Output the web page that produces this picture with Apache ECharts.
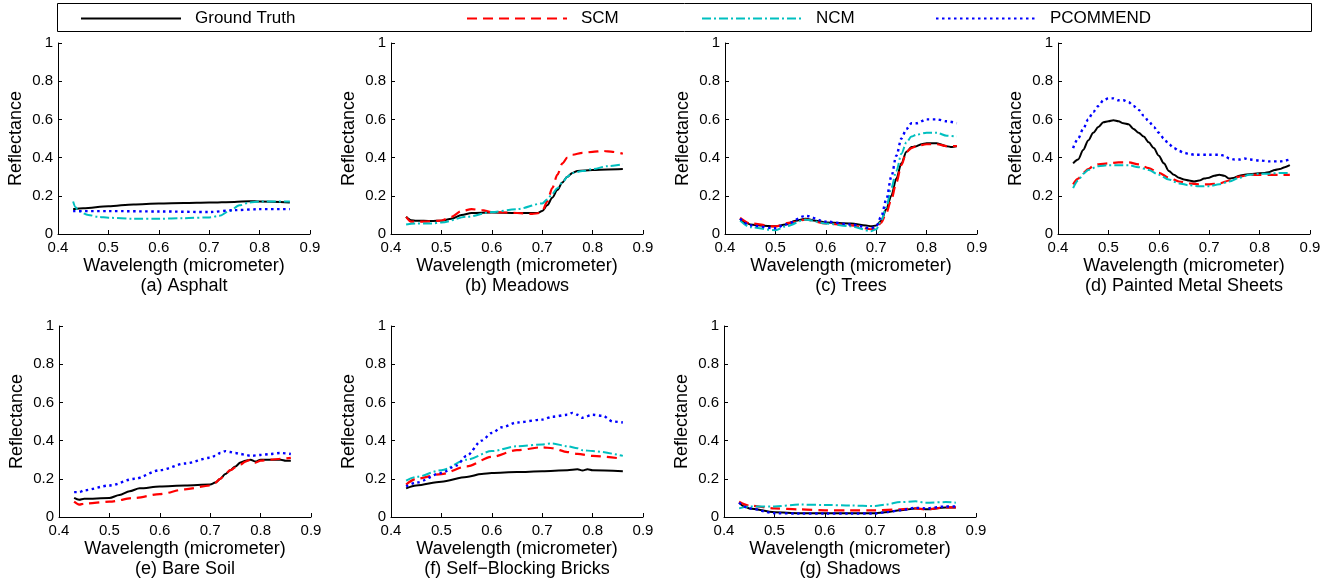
<!DOCTYPE html>
<html>
<head>
<meta charset="utf-8">
<script src="https://cdn.jsdelivr.net/npm/echarts@6/dist/echarts.min.js"></script>
<style>
  html, body { margin: 0; padding: 0; background: #fff; }
  #chart { width: 1335px; height: 585px; }
</style>
</head>
<body>
<div id="chart"></div>
<script>
// reflectance spectra, as [wavelength, reflectance]
const asphaltGT = [[0.43,0.13],[0.45,0.135],[0.5,0.145],[0.55,0.155],[0.6,0.16],[0.65,0.162],[0.7,0.165],[0.75,0.168],[0.78,0.172],[0.8,0.17],[0.86,0.165]];
const asphaltSCM = [];
const asphaltNCM = [[0.43,0.17],[0.435,0.14],[0.44,0.12],[0.46,0.1],[0.48,0.09],[0.5,0.085],[0.55,0.08],[0.6,0.08],[0.65,0.083],[0.7,0.087],[0.72,0.095],[0.74,0.12],[0.76,0.15],[0.78,0.165],[0.8,0.17],[0.86,0.17]];
const asphaltPC = [[0.43,0.12],[0.5,0.12],[0.6,0.118],[0.7,0.115],[0.75,0.125],[0.8,0.13],[0.86,0.13]];

const meadowsGT = [[0.43,0.09],[0.44,0.072],[0.45,0.07],[0.48,0.068],[0.5,0.07],[0.52,0.08],[0.54,0.1],[0.56,0.11],[0.6,0.112],[0.65,0.11],[0.69,0.11],[0.7,0.12],[0.71,0.15],[0.72,0.19],[0.73,0.23],[0.74,0.27],[0.75,0.3],[0.76,0.32],[0.77,0.33],[0.8,0.335],[0.83,0.338],[0.86,0.34]];
const meadowsSCM = [[0.43,0.09],[0.44,0.065],[0.47,0.065],[0.5,0.07],[0.52,0.09],[0.54,0.12],[0.56,0.13],[0.58,0.125],[0.6,0.115],[0.65,0.11],[0.68,0.105],[0.695,0.11],[0.7,0.12],[0.71,0.17],[0.72,0.24],[0.73,0.31],[0.74,0.37],[0.75,0.4],[0.76,0.415],[0.78,0.425],[0.8,0.43],[0.82,0.435],[0.84,0.43],[0.86,0.42]];
const meadowsNCM = [[0.43,0.05],[0.45,0.055],[0.48,0.055],[0.5,0.06],[0.55,0.09],[0.6,0.115],[0.65,0.13],[0.7,0.16],[0.71,0.18],[0.72,0.21],[0.73,0.24],[0.74,0.27],[0.75,0.3],[0.76,0.32],[0.78,0.33],[0.8,0.34],[0.83,0.355],[0.86,0.365]];
const meadowsPC = [];

const treesGT = [[0.43,0.08],[0.44,0.06],[0.45,0.05],[0.47,0.045],[0.5,0.04],[0.52,0.05],[0.54,0.07],[0.56,0.08],[0.58,0.07],[0.6,0.06],[0.65,0.055],[0.68,0.045],[0.69,0.04],[0.7,0.045],[0.71,0.07],[0.72,0.13],[0.73,0.2],[0.74,0.29],[0.75,0.37],[0.76,0.43],[0.77,0.455],[0.78,0.46],[0.79,0.47],[0.8,0.475],[0.82,0.475],[0.84,0.46],[0.85,0.455],[0.86,0.46]];
const treesSCM = [[0.43,0.085],[0.45,0.055],[0.5,0.04],[0.53,0.06],[0.56,0.075],[0.6,0.055],[0.65,0.045],[0.69,0.025],[0.7,0.03],[0.71,0.06],[0.72,0.11],[0.73,0.18],[0.74,0.27],[0.75,0.36],[0.76,0.43],[0.77,0.45],[0.78,0.46],[0.8,0.47],[0.82,0.47],[0.84,0.46],[0.86,0.46]];
const treesNCM = [[0.43,0.07],[0.45,0.035],[0.5,0.02],[0.52,0.04],[0.56,0.075],[0.6,0.055],[0.65,0.04],[0.69,0.015],[0.7,0.025],[0.71,0.07],[0.72,0.14],[0.73,0.24],[0.74,0.33],[0.75,0.42],[0.76,0.48],[0.77,0.51],[0.78,0.52],[0.8,0.53],[0.82,0.53],[0.84,0.515],[0.86,0.51]];
const treesPC = [[0.43,0.08],[0.45,0.045],[0.5,0.03],[0.52,0.05],[0.56,0.095],[0.6,0.065],[0.65,0.05],[0.69,0.03],[0.7,0.04],[0.71,0.09],[0.72,0.18],[0.73,0.3],[0.74,0.41],[0.75,0.5],[0.76,0.55],[0.77,0.58],[0.78,0.58],[0.8,0.6],[0.82,0.6],[0.84,0.59],[0.86,0.58]];

const metalGT = [[0.43,0.37],[0.44,0.39],[0.45,0.44],[0.46,0.49],[0.47,0.53],[0.48,0.56],[0.49,0.585],[0.5,0.59],[0.51,0.595],[0.52,0.59],[0.53,0.58],[0.54,0.575],[0.55,0.55],[0.56,0.53],[0.57,0.51],[0.58,0.48],[0.59,0.45],[0.6,0.41],[0.61,0.37],[0.62,0.33],[0.63,0.31],[0.64,0.295],[0.65,0.285],[0.66,0.28],[0.67,0.275],[0.68,0.28],[0.69,0.29],[0.7,0.295],[0.71,0.305],[0.72,0.31],[0.73,0.305],[0.74,0.29],[0.75,0.295],[0.76,0.305],[0.77,0.31],[0.79,0.315],[0.81,0.32],[0.82,0.325],[0.83,0.335],[0.84,0.34],[0.85,0.35],[0.86,0.36]];
const metalSCM = [[0.43,0.26],[0.44,0.29],[0.45,0.32],[0.46,0.34],[0.47,0.355],[0.48,0.365],[0.5,0.37],[0.52,0.375],[0.54,0.375],[0.56,0.365],[0.58,0.345],[0.6,0.32],[0.62,0.295],[0.64,0.275],[0.66,0.265],[0.68,0.26],[0.7,0.26],[0.72,0.265],[0.74,0.28],[0.76,0.3],[0.78,0.31],[0.8,0.31],[0.82,0.31],[0.84,0.31],[0.86,0.31]];
const metalNCM = [[0.43,0.24],[0.44,0.28],[0.45,0.315],[0.46,0.335],[0.48,0.355],[0.5,0.36],[0.52,0.36],[0.54,0.36],[0.56,0.35],[0.58,0.335],[0.6,0.31],[0.62,0.285],[0.64,0.265],[0.66,0.255],[0.68,0.25],[0.7,0.25],[0.72,0.26],[0.74,0.275],[0.76,0.295],[0.78,0.31],[0.8,0.315],[0.82,0.315],[0.84,0.32],[0.86,0.32]];
const metalPC = [[0.43,0.45],[0.44,0.5],[0.45,0.55],[0.46,0.6],[0.47,0.64],[0.48,0.67],[0.49,0.7],[0.5,0.71],[0.51,0.71],[0.52,0.7],[0.53,0.7],[0.54,0.69],[0.55,0.67],[0.56,0.65],[0.57,0.62],[0.58,0.59],[0.59,0.56],[0.6,0.53],[0.61,0.5],[0.62,0.47],[0.63,0.45],[0.64,0.435],[0.65,0.425],[0.66,0.42],[0.67,0.415],[0.7,0.415],[0.72,0.415],[0.73,0.41],[0.74,0.395],[0.75,0.39],[0.76,0.39],[0.77,0.395],[0.78,0.39],[0.8,0.385],[0.82,0.38],[0.84,0.38],[0.86,0.39]];

const soilGT = [[0.43,0.1],[0.44,0.09],[0.45,0.095],[0.5,0.1],[0.52,0.115],[0.54,0.135],[0.56,0.15],[0.6,0.16],[0.65,0.165],[0.7,0.17],[0.71,0.18],[0.72,0.2],[0.73,0.225],[0.74,0.245],[0.75,0.265],[0.76,0.285],[0.77,0.295],[0.78,0.3],[0.79,0.29],[0.8,0.3],[0.82,0.3],[0.84,0.3],[0.85,0.295],[0.86,0.295]];
const soilSCM = [[0.43,0.08],[0.44,0.065],[0.45,0.07],[0.5,0.08],[0.55,0.1],[0.6,0.12],[0.65,0.145],[0.7,0.165],[0.71,0.18],[0.72,0.2],[0.73,0.225],[0.74,0.245],[0.75,0.26],[0.76,0.275],[0.77,0.29],[0.78,0.3],[0.79,0.285],[0.8,0.295],[0.82,0.3],[0.84,0.305],[0.86,0.31]];
const soilNCM = [];
const soilPC = [[0.43,0.13],[0.44,0.13],[0.45,0.14],[0.5,0.165],[0.55,0.2],[0.6,0.245],[0.65,0.28],[0.7,0.31],[0.71,0.32],[0.72,0.335],[0.73,0.345],[0.74,0.34],[0.75,0.335],[0.76,0.33],[0.77,0.325],[0.78,0.32],[0.8,0.325],[0.82,0.33],[0.84,0.335],[0.86,0.33]];

const bricksGT = [[0.43,0.15],[0.45,0.165],[0.5,0.185],[0.55,0.21],[0.58,0.225],[0.6,0.23],[0.65,0.235],[0.7,0.24],[0.75,0.245],[0.77,0.25],[0.78,0.243],[0.79,0.25],[0.8,0.245],[0.86,0.24]];
const bricksSCM = [[0.43,0.17],[0.45,0.2],[0.5,0.225],[0.55,0.265],[0.6,0.315],[0.65,0.35],[0.7,0.365],[0.72,0.36],[0.75,0.34],[0.77,0.33],[0.8,0.32],[0.86,0.305]];
const bricksNCM = [[0.43,0.19],[0.45,0.21],[0.5,0.245],[0.55,0.3],[0.6,0.345],[0.65,0.37],[0.7,0.38],[0.72,0.385],[0.75,0.37],[0.77,0.36],[0.78,0.35],[0.8,0.345],[0.86,0.32]];
const bricksPC = [[0.43,0.16],[0.45,0.18],[0.5,0.23],[0.53,0.27],[0.55,0.32],[0.58,0.4],[0.6,0.44],[0.62,0.47],[0.65,0.495],[0.7,0.51],[0.72,0.525],[0.75,0.535],[0.76,0.545],[0.77,0.535],[0.78,0.52],[0.8,0.535],[0.82,0.53],[0.84,0.5],[0.86,0.495]];

const shadowsGT = [[0.43,0.075],[0.44,0.055],[0.45,0.045],[0.5,0.025],[0.55,0.02],[0.6,0.02],[0.65,0.02],[0.7,0.02],[0.72,0.025],[0.75,0.035],[0.78,0.045],[0.8,0.04],[0.84,0.05],[0.86,0.05]];
const shadowsSCM = [[0.43,0.08],[0.45,0.06],[0.5,0.045],[0.55,0.04],[0.6,0.035],[0.65,0.035],[0.7,0.035],[0.75,0.04],[0.78,0.045],[0.8,0.04],[0.84,0.05],[0.86,0.05]];
const shadowsNCM = [[0.43,0.045],[0.45,0.055],[0.5,0.055],[0.55,0.065],[0.6,0.063],[0.65,0.06],[0.7,0.057],[0.72,0.065],[0.75,0.078],[0.78,0.082],[0.8,0.075],[0.84,0.078],[0.86,0.075]];
const shadowsPC = [[0.43,0.075],[0.45,0.045],[0.5,0.02],[0.55,0.018],[0.6,0.018],[0.65,0.018],[0.7,0.018],[0.72,0.025],[0.75,0.035],[0.78,0.048],[0.8,0.045],[0.84,0.055],[0.86,0.055]];

const panelTitles = ['(a) Asphalt', '(b) Meadows', '(c) Trees', '(d) Painted Metal Sheets',
  '(e) Bare Soil', '(f) Self\u2212Blocking Bricks', '(g) Shadows'];
const methodNames = ['Ground Truth', 'SCM', 'NCM', 'PCOMMEND'];
const panelData = [
  [asphaltGT, asphaltSCM, asphaltNCM, asphaltPC],
  [meadowsGT, meadowsSCM, meadowsNCM, meadowsPC],
  [treesGT, treesSCM, treesNCM, treesPC],
  [metalGT, metalSCM, metalNCM, metalPC],
  [soilGT, soilSCM, soilNCM, soilPC],
  [bricksGT, bricksSCM, bricksNCM, bricksPC],
  [shadowsGT, shadowsSCM, shadowsNCM, shadowsPC]
];

const font = '"Liberation Sans", Arial, Helvetica, sans-serif';
const lineStyles = [
  { color: '#000000', width: 2, type: 'solid' },
  { color: '#ff0000', width: 2.2, type: [10, 6] },
  { color: '#00bfbf', width: 2, type: [9, 3, 2, 3] },
  { color: '#0000ff', width: 2.4, type: [2.5, 3.5] }
];

// plot boxes (left, top) ; all 252 x 191
const boxes = [[58, 43], [391, 43], [725, 43], [1058, 43], [59, 326], [391, 326], [724, 326]];
const boxW = 252, boxH = 191;

const grid = [], xAxis = [], yAxis = [], series = [], title = [];
boxes.forEach(function (b, i) {
  grid.push({ left: b[0], top: b[1], width: boxW, height: boxH });
  xAxis.push({
    type: 'value', gridIndex: i, min: 0.4, max: 0.9, interval: 0.1,
    name: 'Wavelength (micrometer)', nameLocation: 'middle', nameGap: 23,
    nameTextStyle: { fontSize: 18, color: '#000', fontFamily: font },
    axisLine: { lineStyle: { color: '#000', width: 1 } },
    axisTick: { inside: true, length: 4, lineStyle: { color: '#000' } },
    axisLabel: { fontSize: 15, color: '#000', fontFamily: font, margin: 6 },
    splitLine: { show: false }
  });
  yAxis.push({
    type: 'value', gridIndex: i, min: 0, max: 1, interval: 0.2,
    name: 'Reflectance', nameLocation: 'middle', nameGap: 33,
    nameTextStyle: { fontSize: 18, color: '#000', fontFamily: font },
    axisLine: { show: true, lineStyle: { color: '#000', width: 1 } },
    axisTick: { show: true, inside: true, length: 4, lineStyle: { color: '#000' } },
    axisLabel: { fontSize: 15, color: '#000', fontFamily: font, margin: 5 },
    splitLine: { show: false }
  });
  title.push({
    text: panelTitles[i], left: b[0] + boxW / 2, top: b[1] + boxH + 43,
    textAlign: 'center', padding: 0,
    textStyle: { fontSize: 18, fontWeight: 'normal', color: '#000', fontFamily: font }
  });
  panelData[i].forEach(function (d, k) {
    series.push({
      name: methodNames[k], type: 'line', xAxisIndex: i, yAxisIndex: i,
      data: d, showSymbol: false, symbol: 'none', smooth: 0.3, smoothMonotone: 'x',
      lineStyle: lineStyles[k], itemStyle: { color: lineStyles[k].color },
      z: 2 + k, animation: false
    });
  });
});

const legendLeft = [80, 466, 701, 935];
const legend = methodNames.map(function (n, k) {
  return {
    data: [n], left: legendLeft[k], top: 10, padding: 0,
    itemWidth: 100, itemHeight: 14, selectedMode: false,
    itemStyle: { opacity: 0 },
    textStyle: { fontSize: 17, color: '#000', fontFamily: font, padding: [0, 0, 0, 9] }
  };
});

const chart = echarts.init(document.getElementById('chart'), null, { renderer: 'canvas' });
chart.setOption({
  backgroundColor: '#fff',
  animation: false,
  title: title,
  legend: legend,
  grid: grid,
  xAxis: xAxis,
  yAxis: yAxis,
  series: series,
  graphic: [{
    type: 'rect', z: -1,
    shape: { x: 57.5, y: 3.5, width: 1254, height: 28 },
    style: { fill: '#fff', stroke: '#000', lineWidth: 1 }
  }]
});
</script>
</body>
</html>
